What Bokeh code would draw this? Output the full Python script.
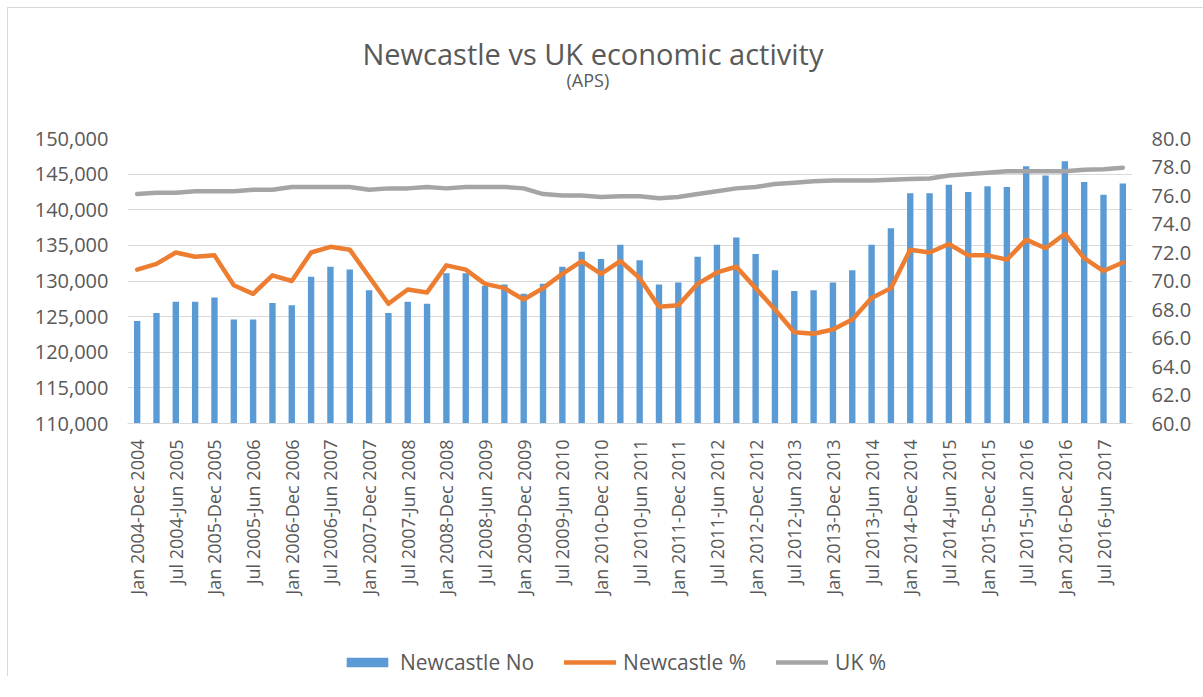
from math import pi
from bokeh.plotting import figure
from bokeh.layouts import column
from bokeh.models import (Range1d, LinearAxis, FixedTicker, SingleIntervalTicker,
                          NumeralTickFormatter, Legend, LegendItem, Title)
from bokeh.embed import file_html
from bokeh.resources import INLINE

periods = [
    "Jan 2004-Dec 2004", "Apr 2004-Mar 2005", "Jul 2004-Jun 2005", "Oct 2004-Sep 2005",
    "Jan 2005-Dec 2005", "Apr 2005-Mar 2006", "Jul 2005-Jun 2006", "Oct 2005-Sep 2006",
    "Jan 2006-Dec 2006", "Apr 2006-Mar 2007", "Jul 2006-Jun 2007", "Oct 2006-Sep 2007",
    "Jan 2007-Dec 2007", "Apr 2007-Mar 2008", "Jul 2007-Jun 2008", "Oct 2007-Sep 2008",
    "Jan 2008-Dec 2008", "Apr 2008-Mar 2009", "Jul 2008-Jun 2009", "Oct 2008-Sep 2009",
    "Jan 2009-Dec 2009", "Apr 2009-Mar 2010", "Jul 2009-Jun 2010", "Oct 2009-Sep 2010",
    "Jan 2010-Dec 2010", "Apr 2010-Mar 2011", "Jul 2010-Jun 2011", "Oct 2010-Sep 2011",
    "Jan 2011-Dec 2011", "Apr 2011-Mar 2012", "Jul 2011-Jun 2012", "Oct 2011-Sep 2012",
    "Jan 2012-Dec 2012", "Apr 2012-Mar 2013", "Jul 2012-Jun 2013", "Oct 2012-Sep 2013",
    "Jan 2013-Dec 2013", "Apr 2013-Mar 2014", "Jul 2013-Jun 2014", "Oct 2013-Sep 2014",
    "Jan 2014-Dec 2014", "Apr 2014-Mar 2015", "Jul 2014-Jun 2015", "Oct 2014-Sep 2015",
    "Jan 2015-Dec 2015", "Apr 2015-Mar 2016", "Jul 2015-Jun 2016", "Oct 2015-Sep 2016",
    "Jan 2016-Dec 2016", "Apr 2016-Mar 2017", "Jul 2016-Jun 2017", "Oct 2016-Sep 2017",
]

newcastle_no = [
    124400, 125500, 127100, 127100, 127700, 124600, 124600, 126900, 126600, 130600,
    132000, 131600, 128700, 125500, 127100, 126800, 131100, 131100, 129300, 129500,
    128200, 129600, 132000, 134100, 133100, 135100, 132900, 129500, 129800, 133400,
    135100, 136100, 133800, 131500, 128600, 128700, 129800, 131500, 135100, 137400,
    142300, 142300, 143500, 142500, 143300, 143200, 146100, 144800, 146800, 143900,
    142100, 143700,
]

newcastle_pct = [
    70.8, 71.2, 72.0, 71.7, 71.8, 69.7, 69.1, 70.4, 70.0, 72.0,
    72.4, 72.2, 70.3, 68.4, 69.4, 69.2, 71.1, 70.8, 69.8, 69.5,
    68.7, 69.5, 70.5, 71.4, 70.5, 71.4, 70.2, 68.2, 68.3, 69.8,
    70.6, 71.0, 69.5, 68.0, 66.4, 66.3, 66.6, 67.3, 68.8, 69.5,
    72.2, 72.0, 72.6, 71.8, 71.8, 71.5, 72.9, 72.3, 73.3, 71.6,
    70.7, 71.3,
]

uk_pct = [
    76.1, 76.2, 76.2, 76.3, 76.3, 76.3, 76.4, 76.4, 76.6, 76.6,
    76.6, 76.6, 76.4, 76.5, 76.5, 76.6, 76.5, 76.6, 76.6, 76.6,
    76.5, 76.1, 76.0, 76.0, 75.9, 75.95, 75.95, 75.8, 75.9, 76.1,
    76.3, 76.5, 76.6, 76.8, 76.9, 77.0, 77.05, 77.05, 77.05, 77.1,
    77.15, 77.2, 77.4, 77.5, 77.6, 77.7, 77.7, 77.7, 77.7, 77.8,
    77.85, 77.95,
]

series_names = ["Newcastle No", "Newcastle %", "UK %"]
series_colors = ["#5B9BD5", "#ED7D31", "#A5A5A5"]
title_text = "Newcastle vs UK economic activity"
subtitle_text = "(APS)"

FONT = "Open Sans"
GREY_TXT = "#595959"
x = list(range(len(periods)))

W = 1195
H_LEG = 49

p = figure(frame_width=1005, frame_height=285, output_backend="svg",
           toolbar_location=None,
           x_range=Range1d(-0.5, len(periods) - 0.5),
           y_range=Range1d(110000, 150000),
           min_border_left=119, min_border_right=71, min_border_top=130,
           min_border_bottom=253)
p.title.text = ""
p.outline_line_color = None
p.background_fill_color = "white"
p.border_fill_color = "white"

p.extra_y_ranges = {"pct": Range1d(60, 80)}

# left axis
ya = p.yaxis[0]
ya.ticker = SingleIntervalTicker(interval=5000)
ya.formatter = NumeralTickFormatter(format="0,0")
# right axis
ra = LinearAxis(y_range_name="pct", ticker=SingleIntervalTicker(interval=2),
                formatter=NumeralTickFormatter(format="0.0"))
p.add_layout(ra, "right")

for ax in (ya, ra):
    ax.axis_line_color = None
    ax.major_tick_line_color = None
    ax.minor_tick_line_color = None
    ax.major_tick_out = 0
    ax.minor_tick_out = 0
    ax.major_label_text_font = FONT
    ax.major_label_text_font_size = "20px"
    ax.major_label_text_color = GREY_TXT
ya.major_label_standoff = 19
ra.major_label_standoff = 19

xa = p.xaxis[0]
xa.ticker = FixedTicker(ticks=x[::2])
xa.major_label_overrides = {i: periods[i] for i in x[::2]}
xa.major_label_orientation = pi / 2
xa.axis_line_color = "#D9D9D9"
xa.major_tick_line_color = None
xa.minor_tick_line_color = None
xa.major_tick_out = 0
xa.minor_tick_out = 0
xa.major_label_text_font = FONT
xa.major_label_text_font_size = "18px"
xa.major_label_text_color = GREY_TXT
xa.major_label_standoff = 16

p.xgrid.visible = False
p.ygrid.grid_line_color = "#D9D9D9"
p.ygrid.grid_line_width = 1

p.vbar(x=x, top=newcastle_no, bottom=110000, width=0.33,
       fill_color=series_colors[0], line_color=None)
p.line(x, newcastle_pct, y_range_name="pct", line_color=series_colors[1],
       line_width=4.5, line_join="round", line_cap="round")
p.line(x, uk_pct, y_range_name="pct", line_color=series_colors[2],
       line_width=4.5, line_join="round", line_cap="round")

# titles stacked above the frame: spacer (closest), subtitle, main title
p.add_layout(Title(text=" ", text_font_size="10px", standoff=37), "above")
p.add_layout(Title(text=subtitle_text, align="left", offset=439, standoff=-6,
                   text_font=FONT, text_font_size="18px", text_font_style="normal",
                   text_color=GREY_TXT), "above")
p.add_layout(Title(text=title_text, align="left", offset=235, standoff=-8,
                   text_font=FONT, text_font_size="29px", text_font_style="normal",
                   text_color=GREY_TXT), "above")

# legend strip (separate figure so the legend is not clipped), laid over the
# empty bottom strip of the chart
q = figure(width=W, height=H_LEG, output_backend="svg", toolbar_location=None,
           x_range=Range1d(-0.5, len(periods) - 0.5), y_range=Range1d(0, 1),
           x_axis_location=None, y_axis_location=None,
           min_border_left=119, min_border_right=71, min_border_top=0,
           min_border_bottom=0)
q.styles = {"position": "absolute", "left": "0px", "top": "640px"}
q.title.text = ""
q.outline_line_color = None
q.xgrid.visible = False
q.ygrid.visible = False
q.border_fill_alpha = 0
q.background_fill_alpha = 0
lb = q.vbar(x=x, top=newcastle_no, width=0.33, fill_color=series_colors[0],
            line_color=None, visible=False)
ln = q.line(x, newcastle_pct, line_color=series_colors[1], line_width=4.5,
            line_cap="round", visible=False)
lu = q.line(x, uk_pct, line_color=series_colors[2], line_width=4.5,
            line_cap="round", visible=False)

legend = Legend(items=[LegendItem(label=series_names[0], renderers=[lb]),
                       LegendItem(label=series_names[1], renderers=[ln]),
                       LegendItem(label=series_names[2], renderers=[lu])],
                orientation="horizontal", location=(214, 21),
                glyph_width=52, glyph_height=12, label_standoff=7, spacing=30,
                padding=0, margin=0, border_line_color=None,
                background_fill_alpha=0, inactive_fill_alpha=0,
                label_text_font=FONT, label_text_font_size="21px",
                label_text_color=GREY_TXT)
q.add_layout(legend, "center")

layout = column(p, q, spacing=0)
layout.styles = {"margin-left": "7px", "margin-top": "7px", "position": "relative",
                 "border-left": "1px solid #D9D9D9", "border-top": "1px solid #D9D9D9"}

open("out.html", "w").write(file_html(layout, INLINE))
